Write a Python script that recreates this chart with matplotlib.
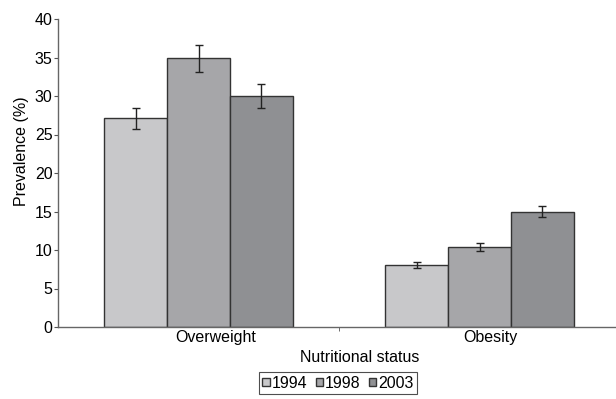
import numpy as np
import matplotlib.pyplot as plt
from matplotlib.ticker import MultipleLocator, FixedLocator

plt.rcParams['font.family'] = ['Liberation Sans', 'DejaVu Sans']

categories = ["Overweight", "Obesity"]
years = ["1994", "1998", "2003"]
prev_1994 = [27.1, 8.1]
prev_1998 = [34.9, 10.4]
prev_2003 = [30.0, 15.0]
err_1994 = [1.4, 0.4]
err_1998 = [1.75, 0.55]
err_2003 = [1.5, 0.7]

colors = ["#c8c8ca", "#a6a6a9", "#8f9093"]
series = [prev_1994, prev_1998, prev_2003]
errors = [err_1994, err_1998, err_2003]
fs = 11.5

fig = plt.figure(figsize=(6.16, 3.99), dpi=100)
ax = fig.add_axes([58/616, 72/399, 558/616, 308/399])

x = np.arange(len(categories)) + 0.5
width = 0.2235
for i, (vals, errs) in enumerate(zip(series, errors)):
    ax.bar(x + (i - 1) * width, vals, width, color=colors[i],
           edgecolor="#333333", linewidth=1.0, label=years[i],
           yerr=errs, error_kw=dict(ecolor="#222222", elinewidth=1.0,
                                    capsize=3, capthick=1.0))

ax.set_xlim(0, 558/281)
ax.set_ylim(0, 40)
ax.yaxis.set_major_locator(MultipleLocator(5))
ax.set_xticks(x + np.array([0.06, 0.04]))
ax.set_xticklabels(categories, fontsize=fs)
ax.xaxis.set_minor_locator(FixedLocator([1.0]))
ax.tick_params(axis="x", which="major", length=0, pad=2)
ax.tick_params(axis="x", which="minor", length=3, color="#555555")
ax.tick_params(axis="y", length=3, color="#555555", labelsize=fs, pad=1)

for side in ["top", "right"]:
    ax.spines[side].set_visible(False)
for side in ["left", "bottom"]:
    ax.spines[side].set_color("#666666")
    ax.spines[side].set_linewidth(1.0)

ax.set_xlabel("Nutritional status", fontsize=fs)
ax.xaxis.set_label_coords((360 - 58) / 558, -0.075)
ax.set_ylabel("Prevalence (%)", fontsize=fs)
ax.yaxis.set_label_coords(-0.052, 0.57)

leg = fig.legend(loc="center", bbox_to_anchor=(338/616, 1 - 383/399), ncol=3,
                 fontsize=fs, frameon=True, fancybox=False,
                 handlelength=0.45, handleheight=0.45, handletextpad=0.15,
                 columnspacing=0.5, borderpad=0.2, borderaxespad=0)
leg.get_frame().set_edgecolor("#222222")
leg.get_frame().set_linewidth(0.8)

fig.savefig("out.png", dpi=100)
